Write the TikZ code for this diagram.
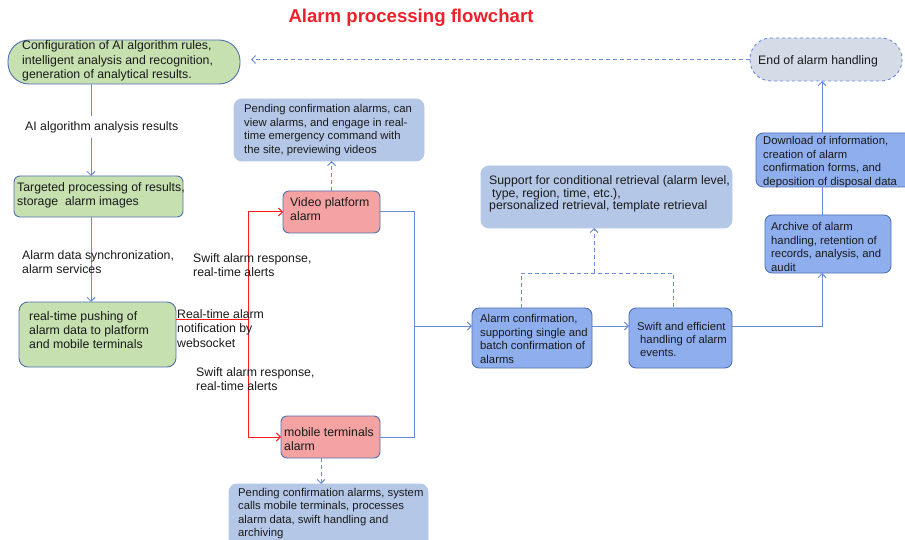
\documentclass[tikz,border=0pt]{standalone}
\usepackage{fontspec}
\setmainfont{Liberation Sans}
\usetikzlibrary{arrows.meta}
\definecolor{gfill}{HTML}{C6E0B0}
\definecolor{bdr}{HTML}{5070B0}
\definecolor{pfill}{HTML}{F4A2A2}
\definecolor{bfill}{HTML}{8EAEEE}
\definecolor{lfill}{HTML}{B4C7E7}
\definecolor{efill}{HTML}{D5DCE8}
\definecolor{connc}{HTML}{6A8CD6}
\definecolor{redc}{HTML}{FF1A1A}
\definecolor{txtc}{HTML}{1A1A1A}
\definecolor{titlec}{HTML}{F0202A}
\newcommand\fA{\fontsize{12.3}{14.2}\selectfont}
\newcommand\fB{\fontsize{11.3}{13.4}\selectfont}
\newcommand\fC{\fontsize{12.3}{12.6}\selectfont}
\begin{document}
\begin{tikzpicture}[x=1pt,y=-1pt,
  box/.style={draw=bdr, line width=0.9pt, inner sep=0pt, outer sep=0pt},
  gbox/.style={box, fill=gfill, rounded corners=7pt},
  pbox/.style={box, fill=pfill, rounded corners=6pt},
  bbox/.style={box, fill=bfill, rounded corners=7pt},
  lbox/.style={box, draw=lfill, fill=lfill, rounded corners=8pt},
  ebox/.style={box, draw=connc, dashed, fill=efill, rounded corners=21pt},
  txt/.style={anchor=west, align=left, inner sep=0pt, text=txtc, font=\fA},
  btxt/.style={txt, font=\fB},
  conn/.style={draw=connc, line width=1pt},
  dconn/.style={conn, dash pattern=on 4pt off 3pt},
  rconn/.style={draw=redc, line width=1pt},
  arr/.style={-{Straight Barb[length=4pt,width=8pt]}}
]
\fill[white] (0,0) rectangle (905,540);
\useasboundingbox (0,0) rectangle (905,540);

% title
\node[font=\bfseries\fontsize{18.6}{20}\selectfont, text=titlec] (title) at (411,18) {Alarm processing flowchart};

% boxes
\node[gbox, rounded corners=21pt, minimum width=232pt, minimum height=44pt] (cfg) at (124,62) {};
\node[gbox, rounded corners=6pt, minimum width=169pt, minimum height=41pt] (tgt) at (98.5,196.5) {};
\node[gbox, rounded corners=9pt, minimum width=157pt, minimum height=65pt] (push) at (97.5,334.5) {};
\node[pbox, minimum width=97pt, minimum height=42pt] (video) at (331.5,212) {};
\node[pbox, minimum width=99pt, minimum height=42pt] (mobile) at (330.5,437) {};
\node[lbox, minimum width=190pt, minimum height=62pt] (pendtop) at (329,130) {};
\node[lbox, minimum width=199pt, minimum height=64pt] (pendbot) at (328.5,516) {};
\node[lbox, minimum width=251pt, minimum height=62pt] (support) at (606.5,197) {};
\node[bbox, minimum width=120pt, minimum height=60pt] (confirm) at (532,338) {};
\node[bbox, minimum width=103pt, minimum height=60pt] (swift) at (680.5,338) {};
\node[bbox, minimum width=126pt, minimum height=58pt] (archive) at (828,244) {};
\node[bbox, minimum width=156pt, minimum height=54pt] (download) at (834,160) {};
\node[ebox, minimum width=152pt, minimum height=43pt] (end) at (826,59.5) {};

% helper coordinates
\coordinate (lx) at (91,0);
\coordinate (rx) at (248,0);
\coordinate (ry) at (0,319);
\coordinate (bx) at (414,0);
\coordinate (my) at (0,326);
\coordinate (mx) at (321,0);
\coordinate (dx1) at (521,0);
\coordinate (dx2) at (673,0);
\coordinate (dx3) at (594,0);
\coordinate (dy) at (0,273);
\coordinate (ax) at (822,0);

% connectors
\draw[conn, arr] (cfg.south -| lx) -- (tgt.north -| lx);
\draw[conn, arr] (tgt.south -| lx) -- (push.north -| lx);
\draw[rconn] (push.east |- ry) -- (rx |- ry);
\draw[rconn] (rx |- video.west) -- (rx |- mobile.west);
\draw[rconn, arr] (rx |- video.west) -- (video.west);
\draw[rconn, arr] (rx |- mobile.west) -- (mobile.west);
\draw[conn] (video.east) -- (bx |- video.east) -- (bx |- mobile.east) -- (mobile.east);
\draw[conn, arr] (bx |- my) -- (confirm.west |- my);
\draw[conn, arr] (confirm.east |- my) -- (swift.west |- my);
\draw[dconn, arr] (video.north) -- (video.north |- pendtop.south);
\draw[dconn, arr] (mobile.south -| mx) -- (pendbot.north -| mx);
\draw[dconn] (confirm.north -| dx1) -- (dx1 |- dy) -- (dx2 |- dy) -- (swift.north -| dx2);
\draw[dconn, arr] (dx3 |- dy) -- (support.south -| dx3);
\draw[conn, arr] (swift.east |- my) -- (ax |- my) -- (archive.south -| ax);
\draw[conn] (archive.north -| ax) -- (download.south -| ax);
\draw[conn, arr] (download.north -| ax) -- (end.south -| ax);
\draw[dconn, arr, shorten >=11pt] (end.west) -- (cfg.east |- end.west);

% texts
\node[txt] (tcfg) at (22,61) {Configuration of AI algorithm rules,\\intelligent analysis and recognition,\\generation of analytical results.};
\node[txt] (ttgt) at (17,195.5) {Targeted processing of results,\\storage\ \ alarm images};
\node[txt] (tpush) at (29,330) {real-time pushing of\\alarm data to platform\\and mobile terminals};
\node[txt, fill=white, inner ysep=5pt] (lab1) at (25,127) {AI algorithm analysis results};
\node[txt] (lab2) at (22,262.5) {Alarm data synchronization,\\alarm services};
\node[txt] (lab3) at (177,328.5) {Real-time alarm\\notification by\\websocket};
\node[txt] (lab4) at (193,265) {Swift alarm response,\\real-time alerts};
\node[txt] (lab5) at (196,379.5) {Swift alarm response,\\real-time alerts};
\node[txt] (tvideo) at (290,209.5) {Video platform\\alarm};
\node[txt] (tmobile) at (284,439) {mobile terminals\\alarm};
\node[btxt] (tpendtop) at (244,130) {Pending confirmation alarms, can\\view alarms, and engage in real-\\time emergency command with\\the site, previewing videos};
\node[btxt] (tpendbot) at (238,513.5) {Pending confirmation alarms, system\\calls mobile terminals, processes\\alarm data, swift handling and\\archiving};
\node[txt, font=\fC] (tsupport) at (489,194) {Support for conditional retrieval (alarm level,\\\hspace*{3pt}type, region, time, etc.),\\personalized retrieval, template retrieval};
\node[btxt] (tconfirm) at (480,339) {Alarm confirmation,\\supporting single and\\batch confirmation of\\alarms};
\node[btxt] (tswift) at (637,339.5) {Swift and efficient\\\hspace*{3pt}handling of alarm\\\hspace*{3pt}events.};
\node[btxt] (tarchive) at (771,247) {Archive of alarm\\handling, retention of\\records, analysis, and\\audit};
\node[btxt] (tdownload) at (763,162) {Download of information,\\creation of alarm\\confirmation forms, and\\deposition of disposal data};
\node[txt] (tend) at (758,61) {End of alarm handling};
\end{tikzpicture}
\end{document}
